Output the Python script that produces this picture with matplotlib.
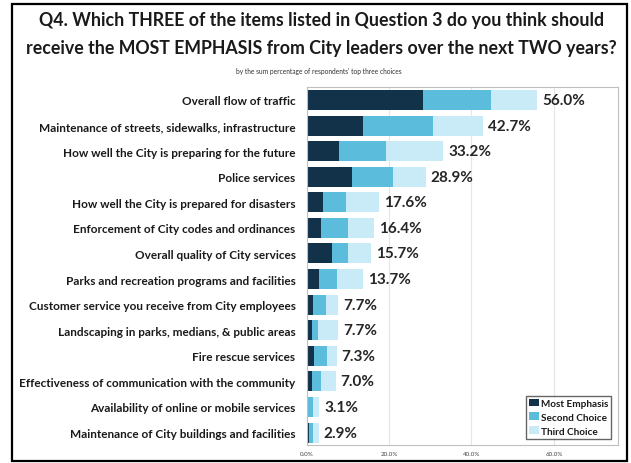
import numpy as np
import matplotlib.pyplot as plt
from matplotlib.patches import Rectangle

plt.rcParams['font.family'] = ['Lato', 'DejaVu Sans']

items = [
    'Overall flow of traffic',
    'Maintenance of streets, sidewalks, infrastructure',
    'How well the City is preparing for the future',
    'Police services',
    'How well the City is prepared for disasters',
    'Enforcement of City codes and ordinances',
    'Overall quality of City services',
    'Parks and recreation programs and facilities',
    'Customer service you receive from City employees',
    'Landscaping in parks, medians, & public areas',
    'Fire rescue services',
    'Effectiveness of communication with the community',
    'Availability of online or mobile services',
    'Maintenance of City buildings and facilities',
]
most = [28.2, 13.6, 7.8, 10.9, 3.9, 3.4, 6.1, 2.9, 1.5, 1.2, 1.7, 1.2, 0.0, 0.6]
second = [16.6, 17.0, 11.4, 10.0, 5.6, 6.6, 3.9, 4.4, 3.1, 1.5, 3.2, 2.4, 1.6, 1.0]
third = [11.2, 12.1, 14.0, 8.0, 8.1, 6.4, 5.7, 6.4, 3.1, 5.0, 2.4, 3.4, 1.5, 1.3]
totals = [56.0, 42.7, 33.2, 28.9, 17.6, 16.4, 15.7, 13.7, 7.7, 7.7, 7.3, 7.0, 3.1, 2.9]
ticks = [0, 20, 40, 60]

c_most = '#12324a'
c_second = '#5bbcdb'
c_third = '#c9ebf7'

fig = plt.figure(figsize=(6.31, 4.64), dpi=100)

# black frame around the whole chart
fig.patches.append(Rectangle((0.019, 0.004), 0.975, 0.986, transform=fig.transFigure,
                             fill=False, edgecolor='black', linewidth=1.6))

fig.text(0.51, 0.955, 'Q4. Which THREE of the items listed in Question 3 do you think should',
         ha='center', va='center', fontsize=12.8, fontweight='bold', color='#1a1a1a')
fig.text(0.51, 0.895, 'receive the MOST EMPHASIS from City leaders over the next TWO years?',
         ha='center', va='center', fontsize=12.8, fontweight='bold', color='#1a1a1a')
fig.text(0.505, 0.845, "by the sum percentage of respondents' top three choices",
         ha='center', va='center', fontsize=4.8, color='#333333')

ax = fig.add_axes([0.486, 0.038, 0.493, 0.772])
y = np.arange(len(items))
h = 0.78
m = np.array(most)
s = np.array(second)
t = np.array(third)
ax.barh(y, m, height=h, color=c_most, label='Most Emphasis')
ax.barh(y, s, height=h, left=m, color=c_second, label='Second Choice')
ax.barh(y, t, height=h, left=m + s, color=c_third, label='Third Choice')

for yi, tot in zip(y, totals):
    ax.text(tot + 1.2, yi, f'{tot:.1f}%', va='center', ha='left',
            fontsize=11, fontweight='bold', color='#262626')

ax.set_xlim(0, 75.5)
ax.set_ylim(len(items) - 0.5, -0.5)
ax.set_yticks(y)
ax.set_yticklabels(items, fontsize=8.5, fontweight='bold', color='#1a1a1a')
ax.set_xticks(ticks)
ax.set_xticklabels([f'{v:.1f}%' for v in ticks], fontsize=4.5, color='#444444')
ax.tick_params(axis='both', length=0)
ax.tick_params(axis='y', pad=8)
ax.tick_params(axis='x', pad=4)
ax.grid(axis='x', color='#e6e6e6', linewidth=0.8)
ax.set_axisbelow(True)
for sp in ax.spines.values():
    sp.set_color('#bfbfbf')
    sp.set_linewidth(0.8)

leg = ax.legend(loc='lower right', fontsize=7.2, frameon=True, fancybox=False,
                edgecolor='#404040', handlelength=1.0, handleheight=0.8,
                handletextpad=0.2, borderpad=0.3, labelspacing=0.45,
                bbox_to_anchor=(0.995, 0.005))
leg.get_frame().set_linewidth(1.0)
for txt in leg.get_texts():
    txt.set_fontweight('bold')
    txt.set_color('#1a1a1a')

fig.savefig('out.png', dpi=100)
